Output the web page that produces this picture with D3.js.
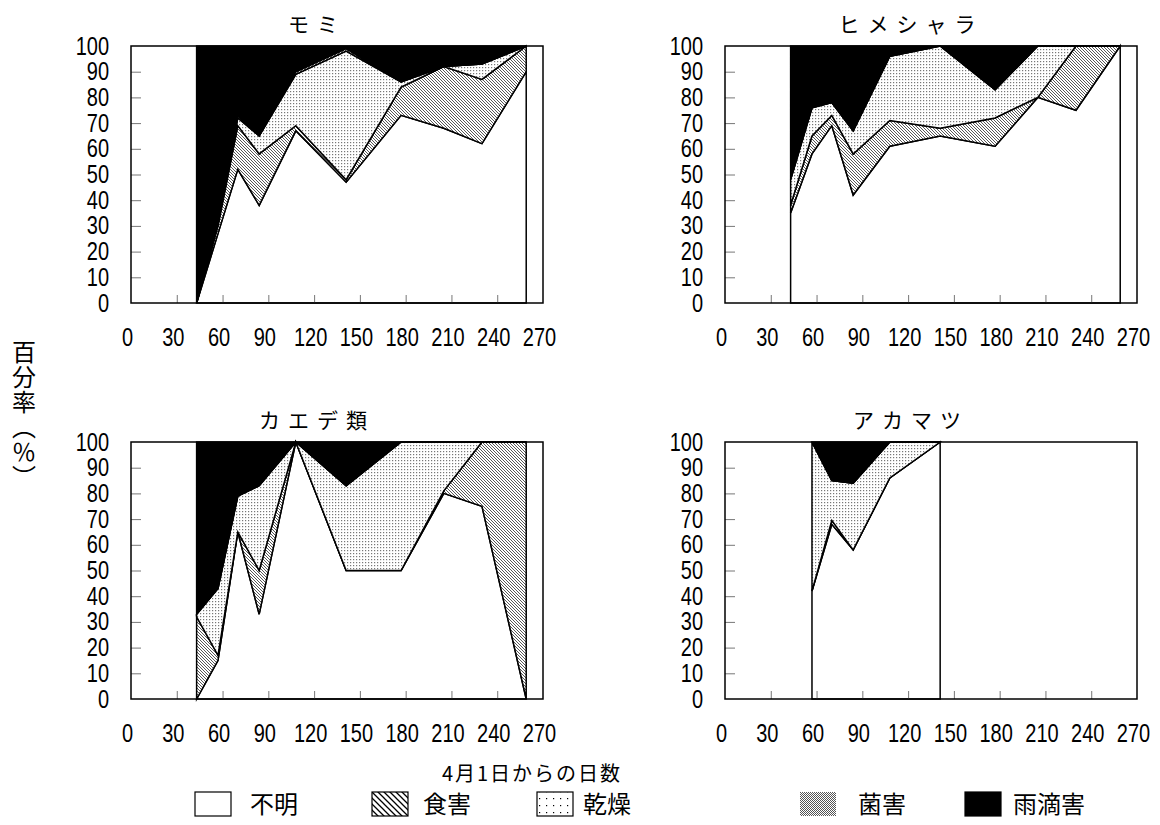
<!DOCTYPE html>
<html>
<head>
<meta charset="utf-8">
<script src="https://cdn.jsdelivr.net/npm/d3@7"></script>
<style>
  body { margin: 0; background: #fff; }
  text { font-family: 'Noto Sans CJK JP', sans-serif; fill: #000; }
  .num { font-family: 'Liberation Sans', Arial, sans-serif; font-size: 25px; }
</style>
</head>
<body>
<script>
// sampling days (days from April 1)
const days = [43, 57, 70, 84, 108, 141, 177, 205, 230, 259];
const pineDays = [57, 70, 84, 108, 141];

const categories = ['不明', '食害', '乾燥', '菌害', '雨滴害'];
const xTicks = [0, 30, 60, 90, 120, 150, 180, 210, 240, 270];
const yTicks = [0, 10, 20, 30, 40, 50, 60, 70, 80, 90, 100];

// percentages, one row per category (same order as categories)
const momi = [
  [0, 27, 52, 38, 67, 47, 73, 68, 62, 90],
  [0, 3, 17, 20, 2, 1, 11, 24, 25, 10],
  [0, 1, 3, 7, 20, 50, 2, 0, 6, 0],
  [0, 0, 1, 0, 1, 1, 0, 0, 0, 0],
  [100, 69, 27, 35, 10, 1, 14, 8, 7, 0]
];
const himeshara = [
  [35, 58, 69, 42, 61, 65, 61, 80, 75, 100],
  [3, 7, 4, 16, 10, 3, 11, 0, 25, 0],
  [10, 11, 5, 9, 25, 32, 11, 20, 0, 0],
  [0, 0, 0, 0, 0, 0, 0, 0, 0, 0],
  [52, 24, 22, 33, 4, 0, 17, 0, 0, 0]
];
const kaede = [
  [0, 15, 65, 33, 100, 50, 50, 80, 75, 0],
  [32, 2, 0, 17, 0, 0, 0, 1, 25, 100],
  [1, 26, 14, 33, 0, 33, 50, 19, 0, 0],
  [0, 0, 0, 0, 0, 0, 0, 0, 0, 0],
  [67, 57, 21, 17, 0, 17, 0, 0, 0, 0]
];
const akamatsu = [
  [42, 68, 58, 86, 100],
  [0, 1.5, 0, 0, 0],
  [58, 15.5, 26, 14, 0],
  [0, 0, 0, 0, 0],
  [0, 15, 16, 0, 0]
];

const W = 412, H = 257;
const squeeze = 0.8; // condensed digits

const svg = d3.select('body').append('svg')
  .attr('width', 1160).attr('height', 825);

// fill patterns
const defs = svg.append('defs');

function hatch(id, size, sw, col) {
  let p = defs.append('pattern').attr('id', id)
    .attr('patternUnits', 'userSpaceOnUse').attr('width', size).attr('height', size);
  p.append('rect').attr('width', size).attr('height', size).attr('fill', '#fff');
  p.append('path')
    .attr('d', 'M' + (-size) + ',0 l' + (2 * size) + ',' + (2 * size) + ' M0,' + (-size) + ' l' + (2 * size) + ',' + (2 * size) + ' M' + (-size) + ',' + (-size) + ' l' + (2 * size) + ',' + (2 * size))
    .attr('stroke', col).attr('stroke-width', sw);
}
function dots(id, size, col) {
  let p = defs.append('pattern').attr('id', id)
    .attr('patternUnits', 'userSpaceOnUse').attr('width', size).attr('height', size);
  p.append('rect').attr('width', size).attr('height', size).attr('fill', '#fff');
  p.append('rect').attr('width', 1.2).attr('height', 1.2).attr('fill', col);
}
function cross(id) {
  let p = defs.append('pattern').attr('id', id)
    .attr('patternUnits', 'userSpaceOnUse').attr('width', 2).attr('height', 2);
  p.append('rect').attr('width', 2).attr('height', 2).attr('fill', '#fff');
  p.append('rect').attr('width', 1).attr('height', 1).attr('fill', '#555');
  p.append('rect').attr('x', 1).attr('y', 1).attr('width', 1).attr('height', 1).attr('fill', '#555');
}
hatch('hatchS', 3, 0.85, '#3a3a3a');
hatch('hatchL', 6, 1.3, '#000');
dots('dotS', 3, '#777');
dots('dotL', 7, '#000');
cross('crossS');

const chartFill = {
  '不明': '#fff', '食害': 'url(#hatchS)', '乾燥': 'url(#dotS)', '菌害': 'url(#crossS)', '雨滴害': '#000'
};

const panels = [
  { title: 'モミ', rows: momi, days: days, left: 131, top: 46 },
  { title: 'ヒメシャラ', rows: himeshara, days: days, left: 725, top: 46 },
  { title: 'カエデ類', rows: kaede, days: days, left: 131, top: 442 },
  { title: 'アカマツ', rows: akamatsu, days: pineDays, left: 725, top: 442 }
];

panels.forEach(function(p) {
  let g = svg.append('g').attr('transform', 'translate(' + p.left + ',' + p.top + ')');
  let x = d3.scaleLinear().domain([0, 270]).range([0, W]);
  let y = d3.scaleLinear().domain([0, 100]).range([H, 0]);

  let table = p.days.map(function(d, i) {
    let r = { day: d };
    categories.forEach(function(c, k) { r[c] = p.rows[k][i]; });
    return r;
  });
  let layers = d3.stack().keys(categories)(table);

  let area = d3.area()
    .x(function(d) { return x(d.data.day); })
    .y0(function(d) { return y(d[0]); })
    .y1(function(d) { return y(d[1]); });

  g.selectAll('.layer')
    .data(layers)
    .enter()
    .append('path')
    .attr('class', 'layer')
    .attr('d', area)
    .attr('fill', function(d) { return chartFill[d.key]; })
    .attr('stroke', '#000')
    .attr('stroke-width', 1.5);

  // inward tick marks
  g.append('g')
    .attr('transform', 'translate(0,' + H + ')')
    .call(d3.axisBottom(x).tickValues(xTicks.slice(1, -1)).tickSizeInner(-8).tickSizeOuter(0).tickFormat(''))
    .call(function(a) { a.select('.domain').remove(); a.selectAll('line').attr('stroke', '#777'); });
  g.append('g')
    .call(d3.axisLeft(y).tickValues(yTicks.slice(1, -1)).tickSizeInner(-10).tickSizeOuter(0).tickFormat(''))
    .call(function(a) { a.select('.domain').remove(); a.selectAll('line').attr('stroke', '#777'); });

  // tick labels (digits squeezed horizontally)
  g.append('g')
    .attr('transform', 'translate(-4,' + H + ')')
    .call(d3.axisBottom(x).tickValues(xTicks).tickSize(0).tickPadding(25))
    .call(function(a) {
      a.select('.domain').remove();
      a.selectAll('text').attr('class', 'num').attr('font-size', null).attr('font-family', null)
        .attr('transform', 'scale(' + squeeze + ',1)');
    });
  g.append('g')
    .call(d3.axisLeft(y).tickValues(yTicks).tickSize(0).tickPadding(22 / squeeze))
    .call(function(a) {
      a.select('.domain').remove();
      a.selectAll('text').attr('class', 'num').attr('font-size', null).attr('font-family', null)
        .attr('transform', 'scale(' + squeeze + ',1)');
    });

  // frame
  g.append('rect')
    .attr('width', W).attr('height', H)
    .attr('fill', 'none').attr('stroke', '#000').attr('stroke-width', 1.5);

  // title
  svg.append('text')
    .attr('x', p.left + W / 2 - 24 + 4)
    .attr('y', p.top - 14)
    .attr('text-anchor', 'middle')
    .style('font-size', '21px')
    .style('letter-spacing', '8px')
    .text(p.title);
});

// axis titles
svg.append('text')
  .attr('x', 532).attr('y', 781)
  .attr('text-anchor', 'middle')
  .style('font-size', '20px')
  .style('letter-spacing', '2px')
  .text('4月1日からの日数');

svg.append('text')
  .attr('x', 24).attr('y', 340)
  .style('writing-mode', 'vertical-rl')
  .style('font-size', '24px')
  .style('letter-spacing', '1px')
  .text('百分率（％）');

// legend
const legendFill = ['#fff', 'url(#hatchL)', 'url(#dotL)', 'url(#crossS)', '#000'];
const legendBoxX = [195, 372, 537, 800, 965];
const legendTextX = [250, 423, 583, 858, 1013];

categories.forEach(function(c, i) {
  svg.append('rect')
    .attr('x', legendBoxX[i]).attr('y', 792)
    .attr('width', 36).attr('height', 24)
    .attr('fill', legendFill[i])
    .attr('stroke', i === 3 ? 'none' : '#000')
    .attr('stroke-width', 1.2);
  svg.append('text')
    .attr('x', legendTextX[i]).attr('y', 813)
    .style('font-size', '24px')
    .text(c);
});
</script>
</body>
</html>
